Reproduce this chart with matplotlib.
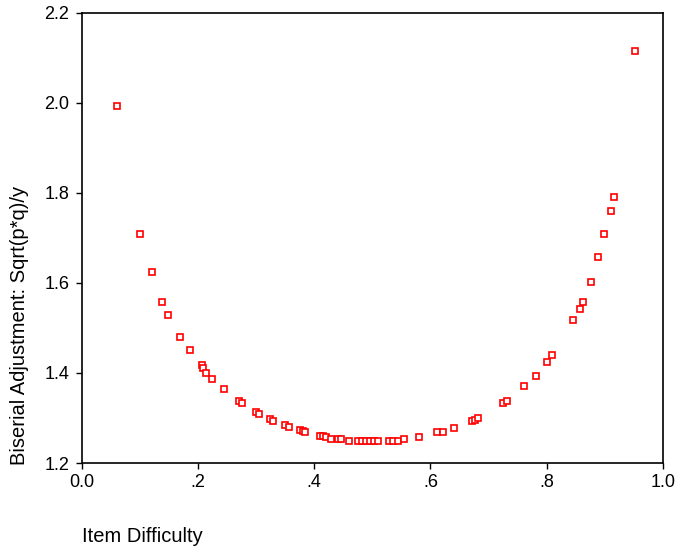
import matplotlib
matplotlib.use("Agg")
import matplotlib.pyplot as plt

# item difficulty (p) and biserial adjustment
difficulty = [0.061, 0.100, 0.121, 0.139, 0.149, 0.170, 0.186, 0.2065, 0.209, 0.2145,
              0.225, 0.245, 0.271, 0.2765, 0.2995, 0.305, 0.3246, 0.330, 0.350, 0.357,
              0.375, 0.380, 0.385, 0.410, 0.415, 0.4205, 0.4297, 0.4406, 0.446, 0.4595,
              0.475, 0.482, 0.489, 0.496, 0.503, 0.5105, 0.528, 0.536, 0.544, 0.554,
              0.5806, 0.611, 0.622, 0.641, 0.671, 0.676, 0.682, 0.7246, 0.731, 0.761,
              0.781, 0.800, 0.810, 0.846, 0.857, 0.862, 0.877, 0.889, 0.8995, 0.910,
              0.9156, 0.9523]
adjustment = [1.993, 1.708, 1.625, 1.557, 1.528, 1.480, 1.450, 1.418, 1.412, 1.400,
              1.387, 1.364, 1.338, 1.334, 1.313, 1.310, 1.298, 1.294, 1.284, 1.281,
              1.273, 1.271, 1.268, 1.261, 1.260, 1.257, 1.253, 1.254, 1.253, 1.250,
              1.250, 1.248, 1.248, 1.248, 1.248, 1.248, 1.250, 1.250, 1.250, 1.253,
              1.257, 1.268, 1.270, 1.277, 1.293, 1.296, 1.300, 1.334, 1.337, 1.370,
              1.394, 1.424, 1.440, 1.517, 1.541, 1.557, 1.603, 1.658, 1.708, 1.760,
              1.790, 2.114]

x_ticks = [0.0, 0.2, 0.4, 0.6, 0.8, 1.0]
x_labels = ["0.0", ".2", ".4", ".6", ".8", "1.0"]
y_ticks = [1.2, 1.4, 1.6, 1.8, 2.0, 2.2]
y_labels = ["1.2", "1.4", "1.6", "1.8", "2.0", "2.2"]

plt.rcParams['font.family'] = ['Liberation Sans', 'DejaVu Sans']

fig = plt.figure(figsize=(6.75, 5.48), dpi=100)
ax = fig.add_axes([0.121, 0.155, 0.861, 0.822])

ax.plot(difficulty, adjustment, linestyle='none', marker='s', markersize=5,
        markerfacecolor='white', markeredgecolor='#ff0000', markeredgewidth=1.2)

ax.set_xlim(0, 1.0)
ax.set_ylim(1.2, 2.2)
ax.set_xticks(x_ticks)
ax.set_xticklabels(x_labels)
ax.set_yticks(y_ticks)
ax.set_yticklabels(y_labels)
ax.tick_params(direction='out', length=4, width=1, labelsize=13, colors='black')
ax.tick_params(axis='y', pad=5)
ax.tick_params(axis='x', pad=4)
for side in ax.spines.values():
    side.set_linewidth(1.2)

fig.text(20 / 675, 1 - 325 / 548, "Biserial Adjustment: Sqrt(p*q)/y", rotation=90,
         ha='center', va='center', fontsize=14.5)
fig.text(82 / 675, 1 - 536 / 548, "Item Difficulty", ha='left', va='center', fontsize=14.5)

fig.savefig("out.png", dpi=100)
